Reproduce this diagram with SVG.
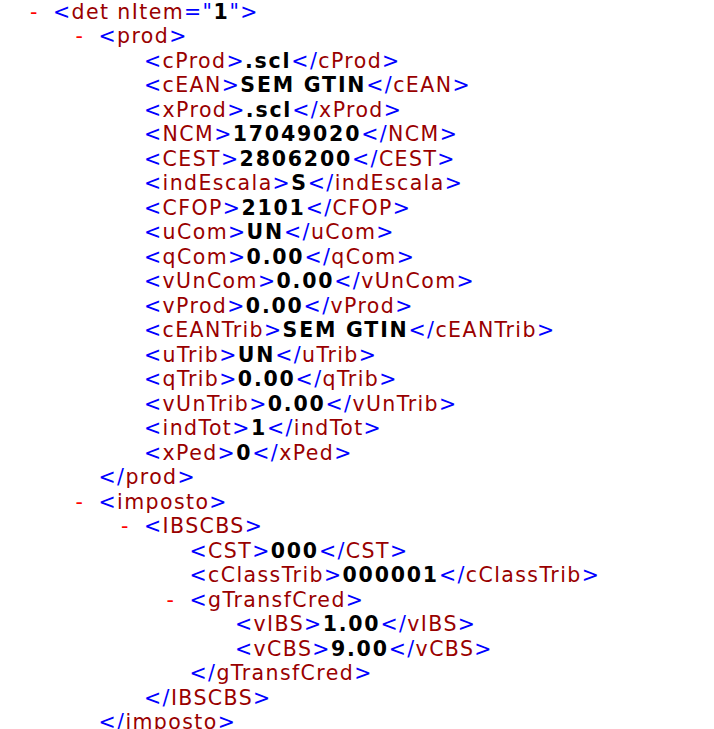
<svg xmlns="http://www.w3.org/2000/svg" width="714" height="729" viewBox="0 0 714 729">
<style>
text{font-family:"DejaVu Sans","Verdana",sans-serif;font-size:20.5px;letter-spacing:1.4px;white-space:pre}
.b{fill:#0000FF}
.n{fill:#990000}
.v{fill:#000000;font-weight:bold;letter-spacing:1.8px}
.m{fill:#FF0000}
</style>
<rect width="714" height="729" fill="#FFFFFF"/>
<text class="m" x="30" y="18.5">-</text>
<text x="53" y="18.5"><tspan class="b">&lt;</tspan><tspan class="n">det nItem</tspan><tspan class="b">="</tspan><tspan class="v">1</tspan><tspan class="b">"&gt;</tspan></text>
<text class="m" x="75.5" y="43">-</text>
<text x="98.5" y="43"><tspan class="b">&lt;</tspan><tspan class="n">prod</tspan><tspan class="b">&gt;</tspan></text>
<text x="144" y="67.5"><tspan class="b">&lt;</tspan><tspan class="n">cProd</tspan><tspan class="b">&gt;</tspan><tspan class="v">.scl</tspan><tspan class="b">&lt;/</tspan><tspan class="n">cProd</tspan><tspan class="b">&gt;</tspan></text>
<text x="144" y="92"><tspan class="b">&lt;</tspan><tspan class="n">cEAN</tspan><tspan class="b">&gt;</tspan><tspan class="v">SEM GTIN</tspan><tspan class="b">&lt;/</tspan><tspan class="n">cEAN</tspan><tspan class="b">&gt;</tspan></text>
<text x="144" y="116.5"><tspan class="b">&lt;</tspan><tspan class="n">xProd</tspan><tspan class="b">&gt;</tspan><tspan class="v">.scl</tspan><tspan class="b">&lt;/</tspan><tspan class="n">xProd</tspan><tspan class="b">&gt;</tspan></text>
<text x="144" y="141"><tspan class="b">&lt;</tspan><tspan class="n">NCM</tspan><tspan class="b">&gt;</tspan><tspan class="v">17049020</tspan><tspan class="b">&lt;/</tspan><tspan class="n">NCM</tspan><tspan class="b">&gt;</tspan></text>
<text x="144" y="165.5"><tspan class="b">&lt;</tspan><tspan class="n">CEST</tspan><tspan class="b">&gt;</tspan><tspan class="v">2806200</tspan><tspan class="b">&lt;/</tspan><tspan class="n">CEST</tspan><tspan class="b">&gt;</tspan></text>
<text x="144" y="190"><tspan class="b">&lt;</tspan><tspan class="n">indEscala</tspan><tspan class="b">&gt;</tspan><tspan class="v">S</tspan><tspan class="b">&lt;/</tspan><tspan class="n">indEscala</tspan><tspan class="b">&gt;</tspan></text>
<text x="144" y="214.5"><tspan class="b">&lt;</tspan><tspan class="n">CFOP</tspan><tspan class="b">&gt;</tspan><tspan class="v">2101</tspan><tspan class="b">&lt;/</tspan><tspan class="n">CFOP</tspan><tspan class="b">&gt;</tspan></text>
<text x="144" y="239"><tspan class="b">&lt;</tspan><tspan class="n">uCom</tspan><tspan class="b">&gt;</tspan><tspan class="v">UN</tspan><tspan class="b">&lt;/</tspan><tspan class="n">uCom</tspan><tspan class="b">&gt;</tspan></text>
<text x="144" y="263.5"><tspan class="b">&lt;</tspan><tspan class="n">qCom</tspan><tspan class="b">&gt;</tspan><tspan class="v">0.00</tspan><tspan class="b">&lt;/</tspan><tspan class="n">qCom</tspan><tspan class="b">&gt;</tspan></text>
<text x="144" y="288"><tspan class="b">&lt;</tspan><tspan class="n">vUnCom</tspan><tspan class="b">&gt;</tspan><tspan class="v">0.00</tspan><tspan class="b">&lt;/</tspan><tspan class="n">vUnCom</tspan><tspan class="b">&gt;</tspan></text>
<text x="144" y="312.5"><tspan class="b">&lt;</tspan><tspan class="n">vProd</tspan><tspan class="b">&gt;</tspan><tspan class="v">0.00</tspan><tspan class="b">&lt;/</tspan><tspan class="n">vProd</tspan><tspan class="b">&gt;</tspan></text>
<text x="144" y="337"><tspan class="b">&lt;</tspan><tspan class="n">cEANTrib</tspan><tspan class="b">&gt;</tspan><tspan class="v">SEM GTIN</tspan><tspan class="b">&lt;/</tspan><tspan class="n">cEANTrib</tspan><tspan class="b">&gt;</tspan></text>
<text x="144" y="361.5"><tspan class="b">&lt;</tspan><tspan class="n">uTrib</tspan><tspan class="b">&gt;</tspan><tspan class="v">UN</tspan><tspan class="b">&lt;/</tspan><tspan class="n">uTrib</tspan><tspan class="b">&gt;</tspan></text>
<text x="144" y="386"><tspan class="b">&lt;</tspan><tspan class="n">qTrib</tspan><tspan class="b">&gt;</tspan><tspan class="v">0.00</tspan><tspan class="b">&lt;/</tspan><tspan class="n">qTrib</tspan><tspan class="b">&gt;</tspan></text>
<text x="144" y="410.5"><tspan class="b">&lt;</tspan><tspan class="n">vUnTrib</tspan><tspan class="b">&gt;</tspan><tspan class="v">0.00</tspan><tspan class="b">&lt;/</tspan><tspan class="n">vUnTrib</tspan><tspan class="b">&gt;</tspan></text>
<text x="144" y="435"><tspan class="b">&lt;</tspan><tspan class="n">indTot</tspan><tspan class="b">&gt;</tspan><tspan class="v">1</tspan><tspan class="b">&lt;/</tspan><tspan class="n">indTot</tspan><tspan class="b">&gt;</tspan></text>
<text x="144" y="459.5"><tspan class="b">&lt;</tspan><tspan class="n">xPed</tspan><tspan class="b">&gt;</tspan><tspan class="v">0</tspan><tspan class="b">&lt;/</tspan><tspan class="n">xPed</tspan><tspan class="b">&gt;</tspan></text>
<text x="98.5" y="484"><tspan class="b">&lt;/</tspan><tspan class="n">prod</tspan><tspan class="b">&gt;</tspan></text>
<text class="m" x="75.5" y="508.5">-</text>
<text x="98.5" y="508.5"><tspan class="b">&lt;</tspan><tspan class="n">imposto</tspan><tspan class="b">&gt;</tspan></text>
<text class="m" x="121" y="533">-</text>
<text x="144" y="533"><tspan class="b">&lt;</tspan><tspan class="n">IBSCBS</tspan><tspan class="b">&gt;</tspan></text>
<text x="189.5" y="557.5"><tspan class="b">&lt;</tspan><tspan class="n">CST</tspan><tspan class="b">&gt;</tspan><tspan class="v">000</tspan><tspan class="b">&lt;/</tspan><tspan class="n">CST</tspan><tspan class="b">&gt;</tspan></text>
<text x="189.5" y="582"><tspan class="b">&lt;</tspan><tspan class="n">cClassTrib</tspan><tspan class="b">&gt;</tspan><tspan class="v">000001</tspan><tspan class="b">&lt;/</tspan><tspan class="n">cClassTrib</tspan><tspan class="b">&gt;</tspan></text>
<text class="m" x="166.5" y="606.5">-</text>
<text x="189.5" y="606.5"><tspan class="b">&lt;</tspan><tspan class="n">gTransfCred</tspan><tspan class="b">&gt;</tspan></text>
<text x="235" y="631"><tspan class="b">&lt;</tspan><tspan class="n">vIBS</tspan><tspan class="b">&gt;</tspan><tspan class="v">1.00</tspan><tspan class="b">&lt;/</tspan><tspan class="n">vIBS</tspan><tspan class="b">&gt;</tspan></text>
<text x="235" y="655.5"><tspan class="b">&lt;</tspan><tspan class="n">vCBS</tspan><tspan class="b">&gt;</tspan><tspan class="v">9.00</tspan><tspan class="b">&lt;/</tspan><tspan class="n">vCBS</tspan><tspan class="b">&gt;</tspan></text>
<text x="189.5" y="680"><tspan class="b">&lt;/</tspan><tspan class="n">gTransfCred</tspan><tspan class="b">&gt;</tspan></text>
<text x="144" y="704.5"><tspan class="b">&lt;/</tspan><tspan class="n">IBSCBS</tspan><tspan class="b">&gt;</tspan></text>
<text x="98.5" y="729"><tspan class="b">&lt;/</tspan><tspan class="n">imposto</tspan><tspan class="b">&gt;</tspan></text>
</svg>
